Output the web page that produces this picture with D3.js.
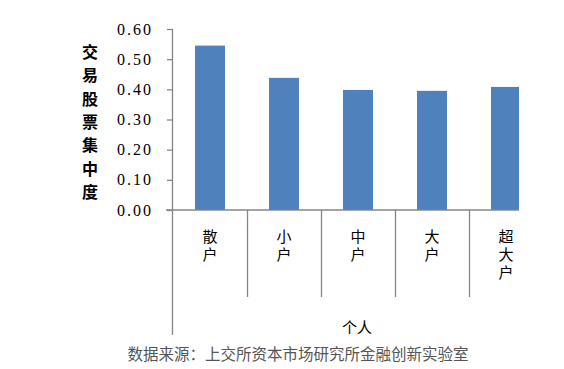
<!DOCTYPE html>
<html><head><meta charset="utf-8">
<script src="https://cdn.jsdelivr.net/npm/d3@7"></script>
<style>html,body{margin:0;padding:0;background:#fff;}svg{display:block;}</style>
</head><body>
<svg id="c" width="564" height="369"></svg>
<script>
const categories = ["散户", "小户", "中户", "大户", "超大户"];
const values = [0.545, 0.438, 0.398, 0.395, 0.408];
const yTicks = [0, 0.1, 0.2, 0.3, 0.4, 0.5, 0.6];
const yTitle = "交易股票集中度";
const groupLabel = "个人";
const source = "数据来源：上交所资本市场研究所金融创新实验室";

const svg = d3.select("#c");
const axisColor = "#868686";
const cjk = "'Noto Sans CJK SC','Noto Sans',sans-serif";

const x = d3.scaleBand().domain(categories).range([173, 543]).paddingInner(0.595).paddingOuter(0.2975);
const y = d3.scaleLinear().domain([0, 0.6]).range([210, 29]);

svg.append("defs").append("clipPath").attr("id", "clip")
  .append("rect").attr("x", 0).attr("y", 0).attr("width", 519).attr("height", 369);

// bars
svg.append("g").attr("clip-path", "url(#clip)")
  .selectAll("rect").data(values).join("rect")
  .attr("x", (d, i) => x(categories[i]))
  .attr("y", d => y(d))
  .attr("width", x.bandwidth())
  .attr("height", d => y(0) - y(d))
  .attr("fill", "#4F81BD");

// y axis
const yAxis = d3.axisLeft(y).tickValues(yTicks).tickFormat(d3.format(".2f")).tickSize(6).tickPadding(14);
const gy = svg.append("g").attr("transform", "translate(173,0)").call(yAxis);
gy.attr("font-family", null).attr("font-size", null);
gy.select(".domain").remove();
gy.selectAll(".tick line").attr("stroke", axisColor).attr("stroke-width", 1.3);
gy.selectAll(".tick text")
  .style("font-family", "'Liberation Serif','DejaVu Serif',serif")
  .style("font-size", "16px").style("letter-spacing", "2px").attr("fill", "#000");
svg.append("line").attr("x1", 172.5).attr("x2", 172.5).attr("y1", y(0.6)).attr("y2", 335)
  .attr("stroke", axisColor).attr("stroke-width", 1.3);

// x axis line
svg.append("line").attr("x1", 166).attr("x2", 519).attr("y1", y(0)).attr("y2", y(0))
  .attr("stroke", axisColor).attr("stroke-width", 1.3);

// category dividers
const step = x.step();
svg.selectAll("line.div").data(categories.slice(1)).join("line").attr("class", "div")
  .attr("x1", c => Math.round(x(c) - x.paddingInner() * step / 2) + 0.5)
  .attr("x2", c => Math.round(x(c) - x.paddingInner() * step / 2) + 0.5)
  .attr("y1", y(0)).attr("y2", 297)
  .attr("stroke", axisColor).attr("stroke-width", 1.3);

// category labels (vertical text)
svg.append("g").selectAll("text").data(categories).join("text")
  .attr("x", c => x(c) + x.bandwidth() / 2).attr("y", 229)
  .style("writing-mode", "vertical-rl").style("text-orientation", "upright")
  .style("letter-spacing", "3px")
  .attr("font-family", cjk).attr("font-size", 15).attr("fill", "#000")
  .text(c => c);

// group label
svg.append("text").attr("x", 357).attr("y", 333).attr("text-anchor", "middle")
  .attr("font-family", cjk).attr("font-size", 15).attr("fill", "#000").text(groupLabel);

// y title vertical
svg.append("text").attr("x", 90).attr("y", 44)
  .style("writing-mode", "vertical-rl").style("text-orientation", "upright")
  .style("letter-spacing", "7.3px")
  .attr("font-family", cjk).attr("font-size", 16).attr("font-weight", "bold")
  .attr("fill", "#000").text(yTitle);

// source
svg.append("text").attr("x", 298).attr("y", 360).attr("text-anchor", "middle")
  .attr("font-family", cjk).attr("font-size", 15.5).attr("fill", "#555").text(source);
</script>
</body></html>
